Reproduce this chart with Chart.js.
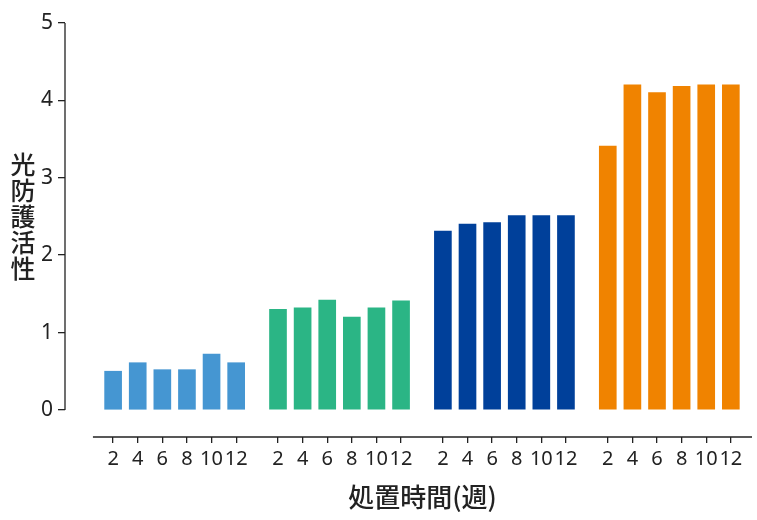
<!DOCTYPE html>
<html>
<head>
<meta charset="utf-8">
<script src="https://cdn.jsdelivr.net/npm/chart.js@4"></script>
<style>
  body { margin: 0; background: #fff; }
  #wrap { width: 757px; height: 520px; position: relative; }
</style>
</head>
<body>
<div id="wrap"><canvas id="myChart"></canvas></div>
<script>
// weeks of treatment, same labels under each group
var weeks = ["2", "4", "6", "8", "10", "12"];
// photoprotective activity per group
var group1 = [0.5, 0.61, 0.52, 0.52, 0.72, 0.61];
var group2 = [1.3, 1.32, 1.42, 1.2, 1.32, 1.41];
var group3 = [2.31, 2.4, 2.42, 2.51, 2.51, 2.51];
var group4 = [3.41, 4.2, 4.1, 4.18, 4.2, 4.2];
var yTicks = [0, 1, 2, 3, 4, 5];

var groups = [group1, group2, group3, group4];
var colors = ["#4596d2", "#2bb585", "#00409a", "#f08300"];
var groupStep = 6.7; // distance between first bars of neighbouring groups, in bar slots

var tickPos = [];
var datasets = groups.map(function (vals, g) {
  return {
    data: vals.map(function (v, i) {
      var xp = g * groupStep + i;
      tickPos.push(xp);
      return { x: xp, y: v };
    }),
    backgroundColor: colors[g],
    barThickness: 17,
    grouped: false
  };
});
var lastPos = tickPos[tickPos.length - 1];

var textColor = "#222";

var extras = {
  id: "extras",
  afterDraw: function (chart) {
    var ctx = chart.ctx, area = chart.chartArea;
    var x = chart.scales.x, y = chart.scales.y;
    ctx.save();
    ctx.strokeStyle = textColor;
    ctx.lineWidth = 1.3;
    ctx.beginPath();
    ctx.moveTo(area.left, y.getPixelForValue(5));
    ctx.lineTo(area.left, y.getPixelForValue(0));
    ctx.moveTo(x.getPixelForValue(-0.82), area.bottom);
    ctx.lineTo(x.getPixelForValue(lastPos + 0.86), area.bottom);
    ctx.stroke();

    ctx.fillStyle = textColor;
    ctx.textAlign = "center";
    ctx.textBaseline = "middle";
    // vertical y title, one character per line
    ctx.font = '500 25px "Noto Sans CJK JP"';
    var title = "光防護活性";
    var mid = (y.getPixelForValue(5) + y.getPixelForValue(0)) / 2;
    for (var i = 0; i < title.length; i++) {
      ctx.fillText(title[i], 23, mid + (i - (title.length - 1) / 2) * 26);
    }
    // x title, centred under the x axis line
    ctx.font = '500 26px "Noto Sans CJK JP"';
    var cx = (x.getPixelForValue(-0.82) + x.getPixelForValue(lastPos + 0.86)) / 2;
    ctx.fillText("処置時間(週)", cx, 497);
    ctx.restore();
  }
};

var ctx = document.getElementById("myChart");
var myChart = new Chart(ctx, {
  type: "bar",
  data: { datasets: datasets },
  options: {
    responsive: true,
    maintainAspectRatio: false,
    animation: false,
    layout: { padding: { left: 35, right: 5, top: 23, bottom: 0 } },
    plugins: { legend: { display: false }, tooltip: { enabled: false } },
    scales: {
      x: {
        type: "linear",
        offset: false,
        min: -1.955,
        max: lastPos + 0.86,
        border: { display: false },
        grid: { display: true, offset: false, drawOnChartArea: false, drawTicks: true, tickLength: 6, color: textColor, lineWidth: 1.3 },
        afterBuildTicks: function (scale) {
          scale.ticks = tickPos.map(function (p) { return { value: p }; });
        },
        afterFit: function (scale) { scale.height = 83; },
        ticks: {
          autoSkip: false,
          maxRotation: 0,
          padding: 4,
          color: textColor,
          font: { family: "Noto Sans", size: 20 },
          callback: function (value) {
            var idx = tickPos.indexOf(value);
            return idx < 0 ? "" : weeks[idx % weeks.length];
          }
        }
      },
      y: {
        min: -0.35,
        max: 5,
        border: { display: false },
        grid: { display: true, drawOnChartArea: false, drawTicks: true, tickLength: 7, color: textColor, lineWidth: 1.3 },
        afterBuildTicks: function (scale) {
          scale.ticks = yTicks.map(function (v) { return { value: v }; });
        },
        afterFit: function (scale) { scale.width = 30; },
        ticks: {
          padding: 5,
          color: textColor,
          font: { family: "Noto Sans", size: 21 }
        }
      }
    }
  },
  plugins: [extras]
});
</script>
</body>
</html>
